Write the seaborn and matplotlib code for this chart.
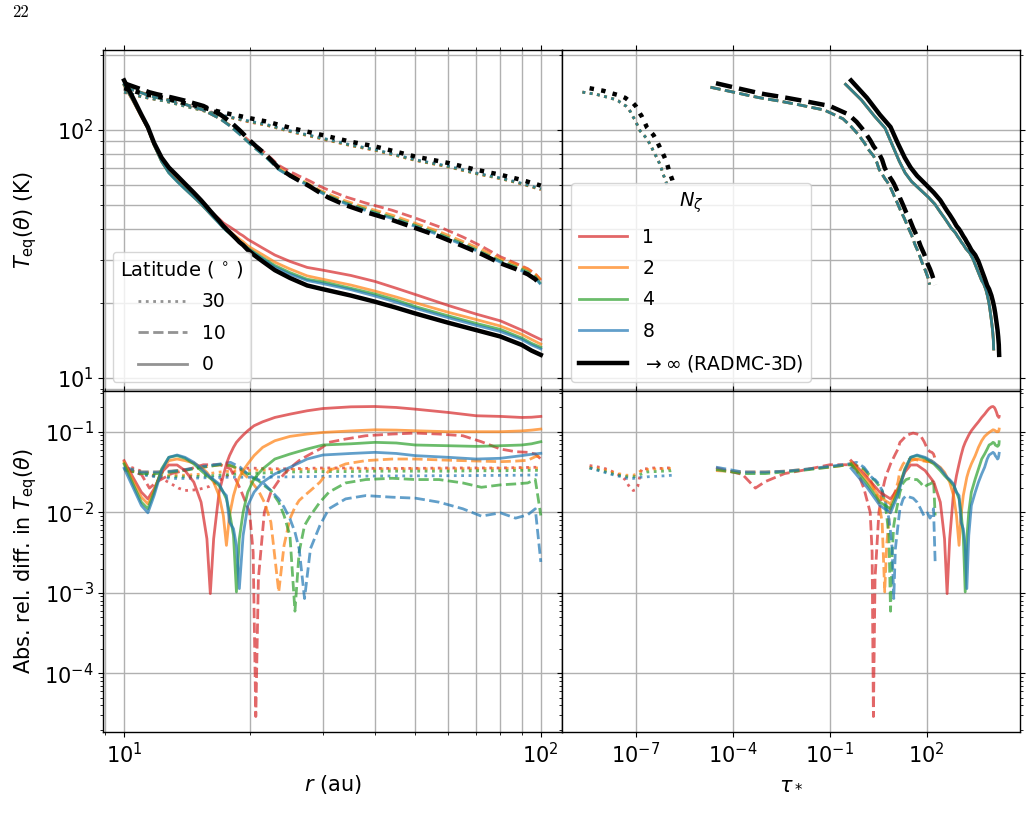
import numpy as np
import matplotlib
matplotlib.use("Agg")
import matplotlib.pyplot as plt
from matplotlib.lines import Line2D
from matplotlib.ticker import FixedLocator, NullLocator
import seaborn as sns

# ---------------------------------------------------------------
# Data (tau and rel. diff. stored as log10)
# ---------------------------------------------------------------

# latitude 30 deg (dotted)
r_lat30 = [10, 10.5, 11, 11.5, 12, 12.5, 13, 13.5, 14, 15, 16, 17, 18, 19, 20,
           22, 25, 30, 35, 40, 50, 60, 70, 80, 90, 100]
log_tau_lat30 = [-8.43, -8.00, -7.75, -7.55, -7.42, -7.32, -7.25, -7.17, -7.08, -7.00,
                 -6.94, -6.90, -6.86, -6.82, -6.79, -6.74, -6.65, -6.45, -6.34, -6.27,
                 -6.12, -6.04, -5.98, -5.93, -5.87, -5.82]
log_tau_model_lat30 = [-8.65, -8.22, -7.97, -7.77, -7.64, -7.54, -7.47, -7.39, -7.30, -7.22,
                       -7.16, -7.12, -7.08, -7.04, -7.01, -6.96, -6.87, -6.67, -6.55, -6.48,
                       -6.32, -6.23, -6.17, -6.11, -6.05, -6.00]
T_radmc_lat30 = [147, 143.5, 140.3, 138, 136.1, 134.3, 132.1, 130, 127.9, 124.5, 121.1,
                 118.0, 115.6, 113.5, 111.4, 107.9, 101.9, 95.1, 89.5, 85.7, 78.0, 73.5,
                 69.0, 65.9, 62.8, 59.6]
T_n1_lat30 = [141.4, 138.4, 135.8, 133.9, 132.4, 130.9, 129.1, 127.4, 125.5, 122.1, 118.6,
              115.0, 112.1, 109.6, 107.4, 104.2, 98.4, 91.7, 86.3, 82.7, 75.3, 70.9, 66.6,
              63.6, 60.5, 57.4]
T_n2_lat30 = [141.7, 138.6, 135.8, 133.9, 132.1, 130.4, 128.3, 126.3, 124.2, 120.8, 117.5,
              114.3, 111.9, 109.8, 107.7, 104.3, 98.4, 91.8, 86.4, 82.7, 75.3, 70.9, 66.6,
              63.6, 60.6, 57.5]
T_n4_lat30 = [141.8, 138.8, 136.1, 134.0, 132.3, 130.6, 128.5, 126.4, 124.4, 121.0, 117.7,
              114.6, 112.2, 110.1, 108.0, 104.6, 98.7, 92.1, 86.6, 83.0, 75.5, 71.1, 66.7,
              63.7, 60.7, 57.6]
T_n8_lat30 = [141.8, 138.9, 136.2, 134.1, 132.4, 130.7, 128.6, 126.6, 124.5, 121.2, 117.8,
              114.8, 112.5, 110.4, 108.4, 105.0, 99.1, 92.5, 87.0, 83.3, 75.8, 71.4, 67.0,
              64.0, 60.9, 57.8]
log_diff_n1_lat30 = [-1.42, -1.45, -1.49, -1.53, -1.56, -1.60, -1.65, -1.70, -1.73, -1.72,
                     -1.68, -1.60, -1.52, -1.47, -1.45, -1.46, -1.46, -1.45, -1.45, -1.455,
                     -1.455, -1.45, -1.45, -1.45, -1.445, -1.44]
log_diff_n2_lat30 = [-1.44, -1.47, -1.50, -1.52, -1.53, -1.54, -1.54, -1.54, -1.54, -1.53,
                     -1.52, -1.50, -1.49, -1.485, -1.48, -1.475, -1.47, -1.465, -1.462,
                     -1.462, -1.46, -1.46, -1.458, -1.455, -1.452, -1.45]
log_diff_n4_lat30 = [-1.45, -1.49, -1.52, -1.54, -1.55, -1.555, -1.56, -1.56, -1.56, -1.555,
                     -1.55, -1.54, -1.53, -1.525, -1.52, -1.51, -1.50, -1.495, -1.495, -1.49,
                     -1.49, -1.49, -1.485, -1.485, -1.48, -1.48]
log_diff_n8_lat30 = [-1.45, -1.50, -1.53, -1.55, -1.56, -1.57, -1.58, -1.58, -1.58, -1.575,
                     -1.57, -1.567, -1.565, -1.565, -1.565, -1.565, -1.56, -1.555, -1.553,
                     -1.55, -1.548, -1.546, -1.544, -1.542, -1.54, -1.535]

# latitude 10 deg (dashed)
r_lat10 = [10, 11, 11.5, 12, 13, 14, 15.5, 17, 18, 19, 20, 20.4, 20.7, 21, 21.7, 22.5,
           23.5, 24.2, 25, 25.7, 26.3, 27.1, 28, 29.5, 31, 34, 38, 44, 50, 57, 65, 72,
           80, 87, 93, 97, 100]
log_tau_lat10 = [-4.52, -3.70, -3.30, -3.00, -2.40, -1.85, -1.00, -0.42, -0.17, 0.06, 0.25,
                 0.31, 0.35, 0.40, 0.52, 0.62, 0.70, 0.76, 0.83, 0.88, 0.93, 0.98, 1.03,
                 1.11, 1.17, 1.27, 1.36, 1.48, 1.58, 1.70, 1.81, 1.92, 2.02, 2.10, 2.16,
                 2.21, 2.26]
log_tau_model_lat10 = [-4.69, -3.87, -3.47, -3.17, -2.57, -2.02, -1.17, -0.59, -0.34, -0.11,
                       0.08, 0.14, 0.18, 0.23, 0.35, 0.45, 0.53, 0.59, 0.66, 0.71, 0.76,
                       0.81, 0.86, 0.94, 1.00, 1.10, 1.19, 1.31, 1.41, 1.53, 1.64, 1.75,
                       1.85, 1.93, 1.99, 2.04, 2.09]
T_radmc_lat10 = [154, 145.5, 141.6, 139, 135, 131, 124.7, 115.3, 107.6, 99, 90.8, 88, 86,
                 84.3, 80.4, 75.7, 70.2, 67.9, 65.5, 63.8, 62.4, 60.8, 58.9, 55.8, 53.2,
                 49.7, 46.6, 43.3, 40.2, 37.2, 34.0, 31.6, 29.0, 27.5, 26.2, 25.0, 23.7]
T_n1_lat10 = [148.5, 141.2, 138.8, 135.7, 131.0, 126.7, 119.8, 110.8, 103.9, 97.1, 89.9,
              87.7, 86.0, 84.4, 81.2, 77.0, 71.9, 69.9, 67.8, 66.4, 65.1, 63.7, 62.0, 59.2,
              57.1, 53.7, 50.7, 47.4, 44.1, 40.7, 37.0, 34.0, 30.8, 29.0, 27.6, 26.3, 24.8]
T_n2_lat10 = [148.9, 140.8, 137.1, 134.6, 130.6, 126.6, 120.2, 110.8, 103.5, 95.7, 88.5,
              86.0, 84.3, 82.7, 79.4, 75.1, 70.2, 68.2, 66.0, 64.6, 63.3, 61.8, 60.0, 57.1,
              55.0, 51.7, 48.6, 45.3, 42.0, 38.9, 35.5, 33.0, 30.2, 28.7, 27.4, 26.2, 24.9]
T_n4_lat10 = [148.8, 141.1, 137.3, 134.8, 130.7, 126.7, 120.2, 110.8, 103.5, 95.6, 88.2,
              85.6, 83.8, 82.2, 78.7, 74.3, 69.3, 67.3, 65.2, 63.8, 62.6, 61.2, 59.4, 56.5,
              54.2, 50.8, 47.8, 44.4, 41.2, 38.1, 34.8, 32.2, 29.6, 28.1, 26.8, 25.6, 23.9]
T_n8_lat10 = [148.4, 140.8, 137.1, 134.6, 130.6, 126.6, 120.1, 110.7, 103.1, 95.4, 88.2,
              85.6, 83.8, 82.2, 78.6, 74.3, 69.1, 67.1, 65.0, 63.4, 62.2, 60.8, 59.1, 56.2,
              53.8, 50.4, 47.3, 43.9, 40.8, 37.7, 34.4, 31.9, 29.3, 27.7, 26.4, 25.3, 23.8]
log_diff_n1_lat10 = [-1.45, -1.53, -1.70, -1.62, -1.52, -1.48, -1.41, -1.41, -1.462, -1.71,
                     -2.0, -2.494, -4.536, -2.824, -2.0, -1.751, -1.607, -1.524, -1.454,
                     -1.40, -1.359, -1.318, -1.277, -1.215, -1.132, -1.091, -1.05, -1.029,
                     -1.017, -1.029, -1.05, -1.124, -1.215, -1.248, -1.256, -1.277, -1.339]
log_diff_n2_lat10 = [-1.483, -1.50, -1.50, -1.50, -1.49, -1.47, -1.44, -1.41, -1.421, -1.483,
                     -1.594, -1.648, -1.69, -1.731, -1.875, -2.123, -2.989, -2.411, -2.081,
                     -1.937, -1.854, -1.793, -1.731, -1.627, -1.483, -1.40, -1.359, -1.339,
                     -1.339, -1.35, -1.359, -1.365, -1.372, -1.365, -1.355, -1.31, -1.30]
log_diff_n4_lat10 = [-1.47, -1.52, -1.52, -1.52, -1.50, -1.48, -1.44, -1.41, -1.42, -1.462,
                     -1.545, -1.575, -1.593, -1.607, -1.669, -1.731, -1.875, -2.04, -2.288,
                     -3.228, -2.494, -2.164, -2.04, -1.875, -1.751, -1.636, -1.594, -1.578,
                     -1.594, -1.594, -1.636, -1.69, -1.66, -1.648, -1.636, -1.594, -2.04]
log_diff_n8_lat10 = [-1.44, -1.50, -1.50, -1.50, -1.49, -1.47, -1.43, -1.40, -1.38, -1.442,
                     -1.545, -1.57, -1.585, -1.594, -1.648, -1.731, -1.834, -1.937, -2.081,
                     -2.246, -2.452, -3.071, -2.452, -2.164, -1.957, -1.834, -1.793, -1.813,
                     -1.825, -1.875, -1.957, -2.048, -2.007, -2.073, -2.032, -1.957, -2.617]

# latitude 0 deg (solid)
r_lat0 = [10, 10.5, 11, 11.4, 11.8, 12.3, 12.8, 13.4, 14, 14.7, 15.3, 15.8, 16.1, 16.4,
          16.9, 17.3, 17.6, 17.9, 18.3, 18.6, 18.9, 19.3, 19.8, 20.5, 21.5, 23, 25, 27.5,
          30, 35, 40, 45, 50, 60, 70, 80, 90, 95, 100]
log_tau_lat0 = [-0.34, 0.15, 0.55, 0.88, 1.10, 1.32, 1.50, 1.70, 1.95, 2.22, 2.42, 2.55,
                2.63, 2.71, 2.83, 2.92, 3.00, 3.06, 3.13, 3.19, 3.24, 3.30, 3.38, 3.50,
                3.60, 3.70, 3.79, 3.87, 3.93, 4.00, 4.05, 4.09, 4.12, 4.16, 4.19, 4.21,
                4.23, 4.235, 4.24]
log_tau_model_lat0 = [-0.51, -0.02, 0.38, 0.71, 0.93, 1.15, 1.33, 1.53, 1.78, 2.05, 2.25,
                      2.38, 2.46, 2.54, 2.66, 2.75, 2.83, 2.89, 2.96, 3.02, 3.07, 3.13,
                      3.21, 3.33, 3.43, 3.53, 3.62, 3.70, 3.76, 3.83, 3.88, 3.92, 3.95,
                      3.99, 4.02, 4.04, 4.06, 4.065, 4.07]
T_radmc_lat0 = [158, 134.5, 115, 102.6, 88.5, 77.2, 70.5, 65.3, 60.6, 55.8, 52.0, 48.9,
                47.1, 45.5, 43.0, 41.0, 39.8, 38.7, 37.3, 36.3, 35.3, 34.3, 32.8, 31.3,
                29.5, 27.2, 25.3, 23.6, 22.8, 21.5, 20.3, 19.2, 18.2, 16.7, 15.6, 14.7,
                13.6, 12.9, 12.4]
T_n1_lat0 = [151.1, 130.8, 113.0, 101.1, 86.8, 74.8, 67.8, 62.8, 58.6, 54.5, 51.3, 48.7,
             47.1, 45.7, 43.8, 42.2, 41.4, 40.7, 39.7, 39.0, 38.2, 37.4, 36.2, 35.0, 33.4,
             31.3, 29.5, 27.9, 27.2, 25.9, 24.5, 23.0, 21.7, 19.6, 18.1, 17.0, 15.6, 14.9,
             14.3]
T_n2_lat0 = [151.4, 131.2, 113.2, 101.3, 86.9, 74.7, 67.4, 62.3, 57.9, 53.5, 50.1, 47.4,
             45.8, 44.4, 42.3, 40.6, 39.6, 39.1, 37.9, 37.1, 36.3, 35.4, 34.1, 32.9, 31.4,
             29.3, 27.5, 25.8, 25.0, 23.7, 22.4, 21.2, 20.1, 18.4, 17.2, 16.2, 15.0, 14.3,
             13.7]
T_n4_lat0 = [151.7, 131.5, 113.5, 101.5, 86.9, 74.5, 67.1, 62.0, 57.8, 53.6, 50.3, 47.5,
             45.9, 44.4, 42.1, 40.3, 39.2, 38.3, 37.1, 36.3, 35.5, 34.6, 33.4, 32.1, 30.5,
             28.4, 26.6, 25.0, 24.4, 23.0, 21.8, 20.6, 19.4, 17.8, 16.6, 15.7, 14.5, 13.8,
             13.3]
T_n8_lat0 = [152.4, 131.8, 113.6, 101.6, 87.1, 74.7, 67.1, 61.9, 57.7, 53.5, 50.2, 47.4,
             45.8, 44.3, 42.0, 40.3, 39.2, 38.4, 37.1, 36.2, 35.3, 34.5, 33.2, 31.9, 30.2,
             28.0, 26.2, 24.7, 24.0, 22.7, 21.4, 20.2, 19.1, 17.5, 16.3, 15.4, 14.3, 13.6,
             13.1]
log_diff_n1_lat0 = [-1.359, -1.566, -1.751, -1.834, -1.710, -1.504, -1.413, -1.413, -1.483,
                    -1.627, -1.875, -2.329, -3.010, -2.329, -1.751, -1.545, -1.400, -1.297,
                    -1.194, -1.132, -1.091, -1.042, -0.988, -0.926, -0.877, -0.823, -0.782,
                    -0.740, -0.712, -0.691, -0.687, -0.699, -0.720, -0.761, -0.802, -0.810,
                    -0.823, -0.820, -0.810]
log_diff_n2_lat0 = [-1.380, -1.607, -1.813, -1.896, -1.731, -1.483, -1.359, -1.339, -1.359,
                    -1.388, -1.442, -1.504, -1.566, -1.627, -1.793, -2.040, -2.411, -2.040,
                    -1.793, -1.669, -1.566, -1.483, -1.400, -1.297, -1.194, -1.112, -1.058,
                    -1.029, -1.009, -0.990, -0.976, -0.980, -0.988, -1.000, -1.000, -1.000,
                    -0.990, -0.980, -0.967]
log_diff_n4_lat0 = [-1.400, -1.648, -1.875, -1.957, -1.751, -1.462, -1.318, -1.297, -1.330,
                    -1.400, -1.483, -1.545, -1.578, -1.607, -1.669, -1.751, -1.834, -1.999,
                    -2.288, -2.989, -2.329, -1.999, -1.751, -1.586, -1.462, -1.339, -1.277,
                    -1.215, -1.165, -1.150, -1.132, -1.140, -1.165, -1.174, -1.182, -1.174,
                    -1.165, -1.150, -1.124]
log_diff_n8_lat0 = [-1.454, -1.690, -1.916, -2.007, -1.793, -1.483, -1.318, -1.289, -1.318,
                    -1.380, -1.454, -1.524, -1.566, -1.595, -1.648, -1.751, -1.793, -2.123,
                    -2.205, -2.411, -2.948, -2.288, -1.916, -1.751, -1.627, -1.524, -1.442,
                    -1.339, -1.289, -1.270, -1.256, -1.270, -1.297, -1.318, -1.339, -1.330,
                    -1.297, -1.280, -1.268]

n_zeta_labels = ["1", "2", "4", "8"]
zeta_colors = ["tab:red", "tab:orange", "tab:green", "tab:blue"]
latitude_labels = ["30", "10", "0"]
latitude_styles = [":", "--", "-"]
tau_ticks = [1e-7, 1e-4, 1e-1, 1e2]

lat_blocks = [
    (":", r_lat30, log_tau_lat30, log_tau_model_lat30, T_radmc_lat30,
     [T_n1_lat30, T_n2_lat30, T_n4_lat30, T_n8_lat30],
     [log_diff_n1_lat30, log_diff_n2_lat30, log_diff_n4_lat30, log_diff_n8_lat30]),
    ("--", r_lat10, log_tau_lat10, log_tau_model_lat10, T_radmc_lat10,
     [T_n1_lat10, T_n2_lat10, T_n4_lat10, T_n8_lat10],
     [log_diff_n1_lat10, log_diff_n2_lat10, log_diff_n4_lat10, log_diff_n8_lat10]),
    ("-", r_lat0, log_tau_lat0, log_tau_model_lat0, T_radmc_lat0,
     [T_n1_lat0, T_n2_lat0, T_n4_lat0, T_n8_lat0],
     [log_diff_n1_lat0, log_diff_n2_lat0, log_diff_n4_lat0, log_diff_n8_lat0]),
]

# ---------------------------------------------------------------
FS = 15
plt.rcParams.update({
    "font.size": FS,
    "axes.linewidth": 1.0,
    "legend.fontsize": 13.5,
    "legend.title_fontsize": 14,
    "legend.labelspacing": 0.66,
    "grid.linewidth": 1.0,
})

LW_COL, LW_BLACK, ALPHA = 2.0, 3.2, 0.7

fig = plt.figure(figsize=(10.33, 8.18), dpi=100)
gs = fig.add_gridspec(2, 2, left=0.1, right=0.9874, top=0.9389, bottom=0.1051,
                      hspace=0, wspace=0)
ax_tl = fig.add_subplot(gs[0, 0])
ax_tr = fig.add_subplot(gs[0, 1], sharey=ax_tl)
ax_bl = fig.add_subplot(gs[1, 0], sharex=ax_tl)
ax_br = fig.add_subplot(gs[1, 1], sharex=ax_tr, sharey=ax_bl)
axes = [ax_tl, ax_tr, ax_bl, ax_br]
for ax in axes:
    ax.set_xscale("log")
    ax.set_yscale("log")


def draw(ax, x, y, **kw):
    sns.lineplot(x=np.asarray(x, dtype=float), y=np.asarray(y, dtype=float), ax=ax,
                 sort=False, estimator=None, legend=False, **kw)


for ls, r, log_tau, log_tau_mod, T_rad, T_models, log_diffs in lat_blocks:
    tau = 10.0 ** np.asarray(log_tau)
    tau_mod = 10.0 ** np.asarray(log_tau_mod)
    for T_m, ld, c in zip(T_models, log_diffs, zeta_colors):
        draw(ax_tl, r, T_m, color=c, linestyle=ls, lw=LW_COL, alpha=ALPHA, zorder=2)
        # in T-tau space the four N_zeta runs coincide
        draw(ax_tr, tau_mod, T_models[-1], color=c, linestyle=ls, lw=LW_COL,
             alpha=ALPHA, zorder=2)
        diff = 10.0 ** np.asarray(ld)
        draw(ax_bl, r, diff, color=c, linestyle=ls, lw=LW_COL, alpha=ALPHA, zorder=2)
        draw(ax_br, tau, diff, color=c, linestyle=ls, lw=LW_COL, alpha=ALPHA, zorder=2)
    draw(ax_tl, r, T_rad, color="black", linestyle=ls, lw=LW_BLACK, zorder=3)
    draw(ax_tr, tau, T_rad, color="black", linestyle=ls, lw=LW_BLACK, zorder=3)

ax_tl.set_ylim(8.87, 209.6)

# tau axis: a major tick every third decade, no minor ticks
ax_br.xaxis.set_major_locator(FixedLocator(tau_ticks))
ax_br.xaxis.set_minor_locator(NullLocator())

for ax in axes:
    ax.tick_params(which="both", direction="out", top=True, right=True)
    ax.set_xlabel("")
    ax.set_ylabel("")
ax_tl.tick_params(labelbottom=False)
ax_tr.tick_params(labelbottom=False, labelleft=False)
ax_br.tick_params(labelleft=False)

ax_tl.grid(True, which="both")
ax_tr.grid(True, which="major")
ax_tr.grid(True, which="minor", axis="y")
ax_bl.grid(True, which="major")
ax_bl.grid(True, which="minor", axis="x")
ax_br.grid(True, which="major")

ax_bl.set_xlabel("$r$ (au)")
ax_br.set_xlabel(r"$\tau_*$")
ax_tl.set_ylabel(r"$T_{\rm eq}(\theta)$ (K)")
ax_bl.set_ylabel(r"Abs. rel. diff. in $T_{\rm eq}(\theta)$")
fig.align_ylabels([ax_tl, ax_bl])

lat_handles = [Line2D([], [], color="gray", linestyle=s, lw=LW_COL, alpha=0.85)
               for s in latitude_styles]
ax_tl.legend(lat_handles, latitude_labels, title=r"Latitude ($\,^\circ\,$)",
             loc="lower left", handlelength=2.6)

zeta_handles = [Line2D([], [], color=c, lw=LW_COL, alpha=ALPHA) for c in zeta_colors]
zeta_handles.append(Line2D([], [], color="black", lw=LW_BLACK))
ax_tr.legend(zeta_handles, n_zeta_labels + [r"$\rightarrow\infty$ (RADMC-3D)"],
             title=r"$N_\zeta$", loc="lower left", handlelength=2.6)

fig.text(12 / 1033, 1 - 5 / 818, "22", ha="left", va="top", fontsize=12,
         family="cmr10")

fig.savefig("out.png", dpi=100)
